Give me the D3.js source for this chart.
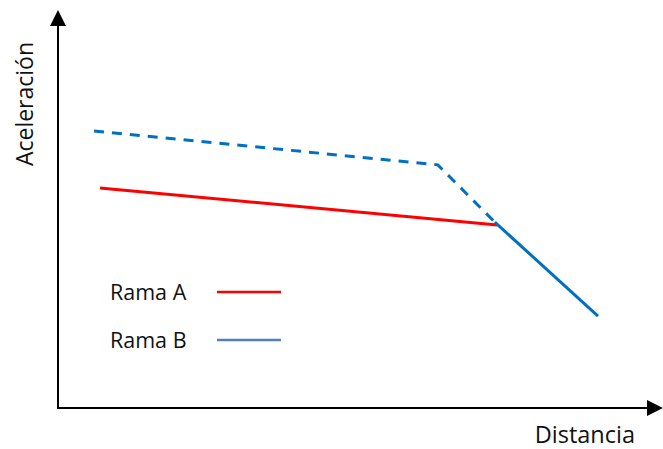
<!DOCTYPE html>
<html>
<head>
<meta charset="utf-8">
<script src="https://cdn.jsdelivr.net/npm/d3@7"></script>
<style>
  body { margin: 0; background: #fff; }
  text { font-family: "Open Sans", "Noto Sans", sans-serif; fill: #111; }
</style>
</head>
<body>
<svg width="663" height="449"></svg>
<script>
// values in arbitrary units (distance 0..100, acceleration 0..100)
var ramaA = [[7, 55.3], [73.2, 46.0]];
var ramaBDashed = [[6, 69.6], [63.3, 61.1], [72.8, 46.7]];
var ramaBSolid = [[72.8, 46.7], [90, 23.1]];
var legendNames = ["Rama A", "Rama B"];
var legendColors = ["#ff0000", "#4f81bd"];

var svg = d3.select("svg"),
    width = +svg.attr("width"),
    height = +svg.attr("height");

var x = d3.scaleLinear().domain([0, 100]).range([58, 658]);
var y = d3.scaleLinear().domain([0, 100]).range([408, 10]);

var line = d3.line()
    .x(function(d) { return x(d[0]); })
    .y(function(d) { return y(d[1]); });

// axes with arrow heads
svg.append("line")
    .attr("x1", 58).attr("y1", 408).attr("x2", 58).attr("y2", 22)
    .attr("stroke", "#000").attr("stroke-width", 2);
svg.append("path")
    .attr("d", "M58,10 L50,26 L66,26 Z")
    .attr("fill", "#000");
svg.append("line")
    .attr("x1", 57).attr("y1", 408).attr("x2", 650).attr("y2", 408)
    .attr("stroke", "#000").attr("stroke-width", 2);
svg.append("path")
    .attr("d", "M663,408 L647,400 L647,416 Z")
    .attr("fill", "#000");

svg.append("text")
    .attr("transform", "translate(33,104) rotate(-90)")
    .attr("text-anchor", "middle")
    .attr("font-size", 23)
    .text("Aceleración");

svg.append("text")
    .attr("x", 635).attr("y", 443)
    .attr("text-anchor", "end")
    .attr("font-size", 23.5)
    .text("Distancia");

// series
svg.append("path")
    .datum(ramaBDashed)
    .attr("d", line)
    .attr("fill", "none")
    .attr("stroke", "#0070c0")
    .attr("stroke-width", 3)
    .attr("stroke-dasharray", "10,8");

svg.append("path")
    .datum(ramaA)
    .attr("d", line)
    .attr("fill", "none")
    .attr("stroke", "#ff0000")
    .attr("stroke-width", 3);

svg.append("path")
    .datum(ramaBSolid)
    .attr("d", line)
    .attr("fill", "none")
    .attr("stroke", "#0070c0")
    .attr("stroke-width", 3);

// legend
var leg = svg.selectAll(".leg")
    .data(legendNames)
  .enter().append("g")
    .attr("class", "leg")
    .attr("transform", function(d, i) { return "translate(110," + (292 + i * 48) + ")"; });

leg.append("text")
    .attr("x", 0).attr("y", 8)
    .attr("font-size", 21.5)
    .text(function(d) { return d; });

leg.append("line")
    .attr("x1", 107).attr("x2", 171)
    .attr("y1", 0).attr("y2", 0)
    .attr("stroke", function(d, i) { return legendColors[i]; })
    .attr("stroke-width", 2.5);
</script>
</body>
</html>
